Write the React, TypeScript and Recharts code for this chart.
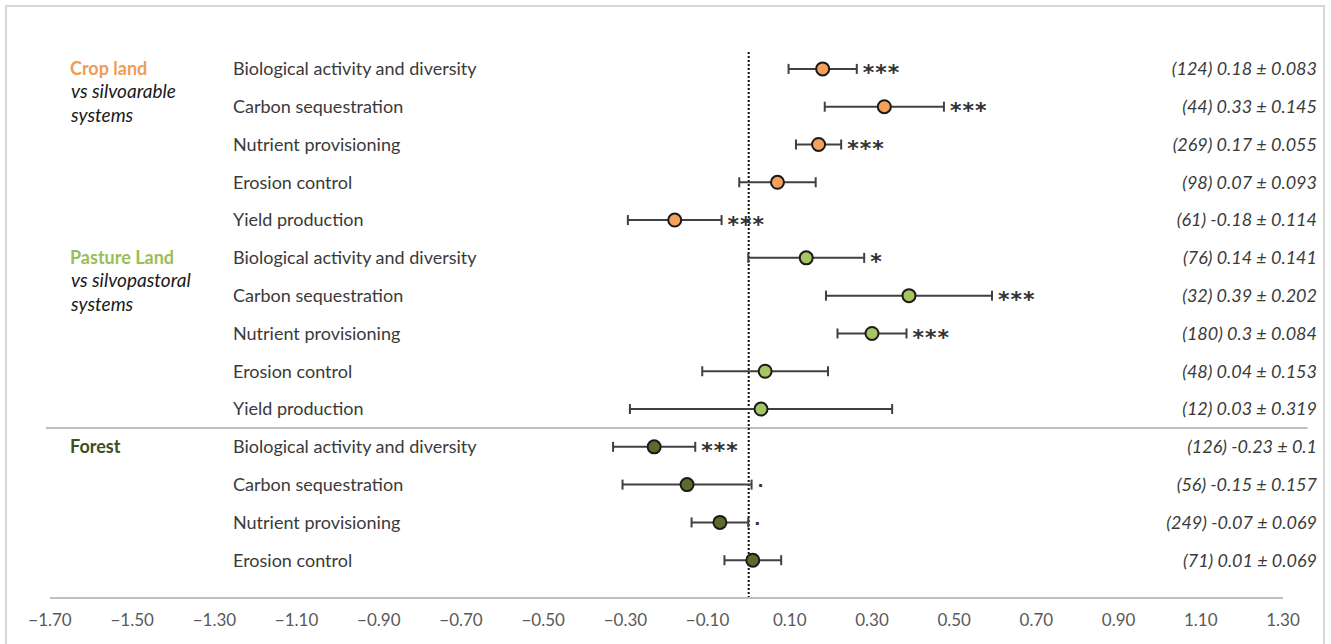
import { ScatterChart, Scatter, XAxis, YAxis, ErrorBar, ReferenceLine } from "recharts";

// groups and their outcome measures
const groupTitles = ["Crop land", "Pasture Land", "Forest"];
const groupSubtitles = [["vs silvoarable", "systems"], ["vs silvopastoral", "systems"], []];

const cropMeasures = [
  "Biological activity and diversity",
  "Carbon sequestration",
  "Nutrient provisioning",
  "Erosion control",
  "Yield production",
];
const cropMeans = [0.18, 0.33, 0.17, 0.07, -0.18];
const cropErrors = [0.083, 0.145, 0.055, 0.093, 0.114];
const cropCounts = [124, 44, 269, 98, 61];
const cropSig = ["***", "***", "***", "", "***"];

const pastureMeasures = [
  "Biological activity and diversity",
  "Carbon sequestration",
  "Nutrient provisioning",
  "Erosion control",
  "Yield production",
];
const pastureMeans = [0.14, 0.39, 0.3, 0.04, 0.03];
const pastureErrors = [0.141, 0.202, 0.084, 0.153, 0.319];
const pastureCounts = [76, 32, 180, 48, 12];
const pastureSig = ["*", "***", "***", "", ""];

const forestMeasures = [
  "Biological activity and diversity",
  "Carbon sequestration",
  "Nutrient provisioning",
  "Erosion control",
];
const forestMeans = [-0.23, -0.15, -0.07, 0.01];
const forestErrors = [0.1, 0.157, 0.069, 0.069];
const forestCounts = [126, 56, 249, 71];
const forestSig = ["***", ".", ".", ""];

const xTicks = [-1.7, -1.5, -1.3, -1.1, -0.9, -0.7, -0.5, -0.3, -0.1, 0.1, 0.3, 0.5, 0.7, 0.9, 1.1, 1.3];

const fillColors = ["#F5A15C", "#A5C661", "#5A6B2E"];
const titleColors = ["#EE9D55", "#9BBD58", "#3F4E1D"];

const FONT = "Lato, 'Liberation Sans', sans-serif";

interface Row {
  x: number;
  y: number;
  err: number;
  n: number;
  sig: string;
  name: string;
  group: number;
  first: boolean;
}

const buildRows = (
  group: number,
  start: number,
  names: string[],
  means: number[],
  errs: number[],
  counts: number[],
  sig: string[]
): Row[] =>
  names.map((name, i) => ({
    x: means[i],
    y: start + i,
    err: errs[i],
    n: counts[i],
    sig: sig[i],
    name,
    group,
    first: i === 0,
  }));

const cropRows = buildRows(0, 0, cropMeasures, cropMeans, cropErrors, cropCounts, cropSig);
const pastureRows = buildRows(1, 5, pastureMeasures, pastureMeans, pastureErrors, pastureCounts, pastureSig);
const forestRows = buildRows(2, 10, forestMeasures, forestMeans, forestErrors, forestCounts, forestSig);
const allRows = [...cropRows, ...pastureRows, ...forestRows];

// points placed at the upper end of each error bar, to carry the significance marks
const sigPoints = allRows.filter((r) => r.sig).map((r) => ({ x: r.x + r.err, y: r.y, sig: r.sig }));

const fmtTick = (v: number) => (v < 0 ? "\u2212" + Math.abs(v).toFixed(2) : v.toFixed(2));

// row texts: measure name on the left, n / mean ± se on the right, group title on first row
const RowText = (props: any) => {
  const { cy, payload } = props;
  const r: Row = payload;
  return (
    <g fontFamily={FONT}>
      <text x={233} y={cy} dy="0.35em" fontSize={18} fill="#3a3a3a">
        {r.name}
      </text>
      <text x={1317} y={cy} dy="0.35em" fontSize={18} fill="#3a3a3a" fontStyle="italic" textAnchor="end">
        {`(${r.n}) ${r.x} \u00b1 ${r.err}`}
      </text>
      {r.first && (
        <>
          <text x={70} y={cy} dy="0.35em" fontSize={18} fontWeight="bold" fill={titleColors[r.group]}>
            {groupTitles[r.group]}
          </text>
          {groupSubtitles[r.group].map((s, i) => (
            <text key={s} x={71} y={cy + 22 + i * 24} dy="0.35em" fontSize={19} fontStyle="italic" fill="#1a1a1a">
              {s}
            </text>
          ))}
        </>
      )}
    </g>
  );
};

const dot = (color: string) => (props: any) =>
  <circle cx={props.cx} cy={props.cy} r={6.5} fill={color} stroke="#1a1a1a" strokeWidth={2} />;

const SigMark = (props: any) => {
  const { cx, cy, payload } = props;
  const isDot = payload.sig === ".";
  return (
    <text
      x={cx + 6}
      y={cy}
      dy={isDot ? "0.15em" : "0.52em"}
      fontSize={isDot ? 16 : 22}
      letterSpacing={isDot ? 0 : 1}
      fill="#333"
      fontFamily="'DejaVu Sans', sans-serif"
      fontWeight="bold"
    >
      {payload.sig}
    </text>
  );
};

export default function App() {
  return (
    <div style={{ position: "fixed", left: 0, top: 0, width: 1331, height: 644, overflow: "hidden", background: "#fff" }}>
      <div
        style={{
          position: "absolute",
          left: 5,
          top: 5,
          width: 1316,
          height: 680,
          border: "2px solid #d6d6d6",
        }}
      />
      <div style={{ position: "absolute", left: 0, top: 0 }}>
        <ScatterChart width={1331} height={644} margin={{ top: 50, right: 48, bottom: 16, left: 50 }}>
          <XAxis
            type="number"
            dataKey="x"
            domain={[-1.7, 1.3]}
            ticks={xTicks}
            interval={0}
            tickFormatter={fmtTick}
            axisLine={{ stroke: "#c0c0c0", strokeWidth: 2 }}
            tickLine={false}
            height={30}
            dy={8}
            tick={{ fill: "#595959", fontSize: 17, fontFamily: FONT }}
          />
          <YAxis type="number" dataKey="y" domain={[-0.5, 14]} reversed hide />
          <ReferenceLine
            segment={[
              { x: -1.71, y: 9.5 },
              { x: 1.36, y: 9.5 },
            ]}
            ifOverflow="visible"
            stroke="#a8a8a8"
            strokeWidth={1.5}
          />
          <ReferenceLine x={0} stroke="#111" strokeWidth={2} strokeDasharray="2 2" />
          <Scatter data={allRows} shape={<RowText />} isAnimationActive={false} />
          {[cropRows, pastureRows, forestRows].map((rows, g) => (
            <Scatter key={g} data={rows} shape={dot(fillColors[g])} isAnimationActive={false}>
              <ErrorBar dataKey="err" direction="x" width={5} stroke="#404040" strokeWidth={2} />
            </Scatter>
          ))}
          <Scatter data={sigPoints} shape={<SigMark />} isAnimationActive={false} />
        </ScatterChart>
      </div>
    </div>
  );
}
